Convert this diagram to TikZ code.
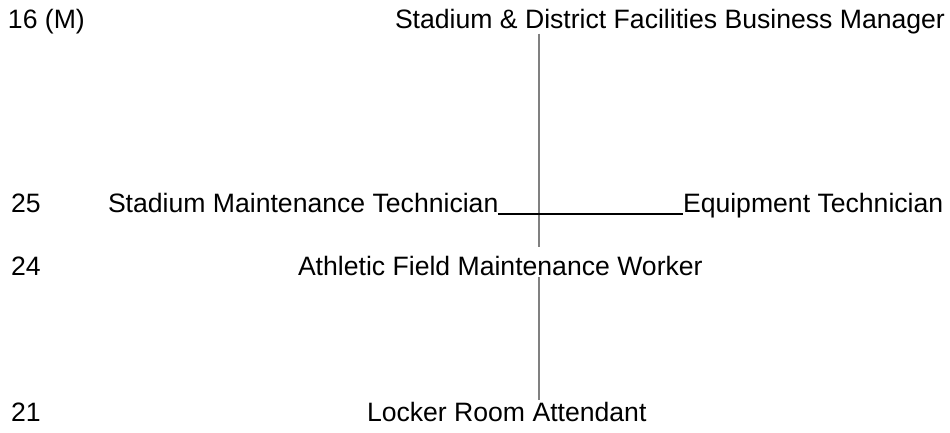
\documentclass[tikz,border=0pt]{standalone}
\usepackage{fontspec}
\setmainfont{Liberation Sans}
\begin{document}
\begin{tikzpicture}[x=1pt,y=-1pt,
  lbl/.style={inner sep=0pt,outer sep=0pt,anchor=base west,font=\fontsize{26.6}{30}\selectfont},
  vline/.style={draw=black!50,line width=1.1pt},
  hline/.style={draw=black,line width=1.6pt}]
\useasboundingbox[fill=white] (0,0) rectangle (950,432);
% grade labels
\node[lbl] (g16) at (8,28) {16 (M)};
\node[lbl] (g25) at (11,212) {25};
\node[lbl] (g24) at (11,275) {24};
\node[lbl] (g21) at (11,421) {21};
% positions
\node[lbl] (mgr) at (395,28) {Stadium \& District Facilities Business Manager};
\node[lbl] (smt) at (108,212) {Stadium Maintenance Technician};
\node[lbl] (eqt) at (683,212) {Equipment Technician};
\node[lbl] (afw) at (298,275) {Athletic Field Maintenance Worker};
\node[lbl] (lra) at (367,421) {Locker Room Attendant};
\coordinate (vx) at (539,0);
% connectors
\draw[vline] (mgr.south -| vx) -- ([yshift=9pt]afw.north -| vx);
\draw[vline] ([yshift=-2pt]afw.south -| vx) -- ([yshift=21pt]lra.base -| vx);
\draw[hline] ([yshift=-2pt]smt.base east) -- ([yshift=-2pt]eqt.base west);
\end{tikzpicture}
\end{document}
